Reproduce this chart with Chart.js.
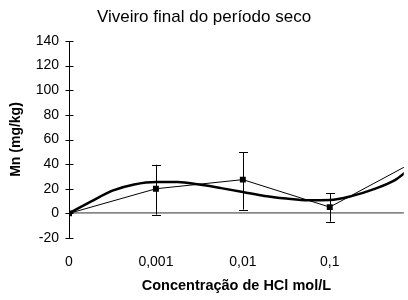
<!DOCTYPE html>
<html>
<head>
<meta charset="utf-8">
<script src="https://cdn.jsdelivr.net/npm/chart.js@4/dist/chart.umd.min.js"></script>
<style>
  html, body { margin: 0; padding: 0; background: #fff; }
  #wrap { width: 408px; height: 300px; position: relative; }
</style>
</head>
<body>
<div id="wrap"><canvas id="graphMn"></canvas></div>
<script>
// categories on the x axis (HCl concentration)
const xLabels = ['0', '0,001', '0,01', '0,1', '1'];

// measured Mn means and error bar ends
const mnMeans = [0, 20, 27.4, 5.1, 43];
const errLow  = [0, -1, 3, -6.8, 43];
const errHigh = [0, 39.5, 49.5, 16.5, 43];

// polynomial trend line
const trendX = [0, 0.25, 0.5, 0.75, 1.0, 1.25, 1.5, 1.75, 2.0, 2.25, 2.5, 2.75, 3.0, 3.25, 3.5, 3.75, 3.9];
const trendY = [0, 9.5, 18.5, 23.5, 25.5, 25.5, 23.4, 20.5, 17.4, 14.1, 12, 10.6, 10.8, 14, 19.5, 27, 35];

const yTicks = [-20, 0, 20, 40, 60, 80, 100, 120, 140];

const FONT = "'Liberation Sans', Arial, sans-serif";

/** Draws the vertical error bars with caps, using the chart scales */
const errorBars = {
    id: 'errorBars',
    afterDatasetsDraw(chart) {
        const ctx = chart.ctx;
        const xs = chart.scales.x;
        const ys = chart.scales.y;
        const area = chart.chartArea;
        ctx.save();
        ctx.beginPath();
        ctx.rect(area.left - 5, 0, area.right - area.left + 5, chart.height);
        ctx.clip();
        ctx.strokeStyle = '#000';
        ctx.lineWidth = 1;
        mnMeans.forEach((v, i) => {
            if (errHigh[i] === errLow[i]) return;
            const x = Math.round(xs.getPixelForValue(i)) + 0.5;
            const y1 = ys.getPixelForValue(errLow[i]);
            const y2 = ys.getPixelForValue(errHigh[i]);
            ctx.beginPath();
            ctx.moveTo(x, y1);
            ctx.lineTo(x, y2);
            ctx.moveTo(x - 4.5, Math.round(y1) + 0.5);
            ctx.lineTo(x + 4.5, Math.round(y1) + 0.5);
            ctx.moveTo(x - 4.5, Math.round(y2) + 0.5);
            ctx.lineTo(x + 4.5, Math.round(y2) + 0.5);
            ctx.stroke();
        });
        ctx.restore();
    }
};

/** Small tick marks crossing the y axis */
const crossTicks = {
    id: 'crossTicks',
    afterDraw(chart) {
        const ctx = chart.ctx;
        const ys = chart.scales.y;
        const x = Math.round(chart.chartArea.left) + 0.5;
        ctx.save();
        ctx.strokeStyle = '#000';
        ctx.lineWidth = 1;
        ctx.beginPath();
        yTicks.forEach(t => {
            const y = Math.round(ys.getPixelForValue(t)) + 0.5;
            ctx.moveTo(x - 4, y);
            ctx.lineTo(x + 4, y);
        });
        ctx.stroke();
        ctx.restore();
    }
};

new Chart(document.getElementById('graphMn'), {
    type: 'scatter',
    data: {
        datasets: [{
            label: 'Mn',
            data: mnMeans.map((v, i) => ({ x: i, y: v })),
            showLine: true,
            borderColor: '#000',
            backgroundColor: '#000',
            borderWidth: 1,
            pointStyle: 'rect',
            pointRadius: 4.2,
            pointBorderWidth: 0,
            order: 2
        }, {
            label: 'Trend',
            data: trendX.map((x, i) => ({ x: x, y: trendY[i] })),
            showLine: true,
            borderColor: '#000',
            borderWidth: 2.5,
            pointRadius: 0,
            cubicInterpolationMode: 'monotone',
            order: 1
        }]
    },
    options: {
        responsive: true,
        maintainAspectRatio: false,
        animation: false,
        layout: { padding: 0 },
        plugins: {
            legend: { display: false },
            tooltip: { enabled: false },
            title: {
                display: true,
                text: 'Viveiro final do período seco',
                color: '#000',
                font: { family: FONT, size: 17, weight: 'normal' },
                padding: { top: 7, bottom: 13.6 }
            }
        },
        scales: {
            x: {
                type: 'linear',
                min: 0,
                max: 3.852,
                afterBuildTicks: scale => {
                    scale.ticks = xLabels.map((l, i) => ({ value: i })).filter(t => t.value <= 3.852);
                },
                afterFit: scale => { scale.height = 62; },
                border: { display: false },
                grid: { display: false },
                ticks: {
                    color: '#000',
                    font: { family: FONT, size: 14 },
                    padding: 8,
                    maxRotation: 0,
                    callback: v => xLabels[v]
                },
                title: {
                    display: true,
                    text: 'Concentração de HCl mol/L',
                    color: '#000',
                    font: { family: FONT, size: 14.5, weight: 'bold' },
                    padding: { top: 0, bottom: 5 }
                }
            },
            y: {
                min: -20,
                max: 140,
                afterBuildTicks: scale => {
                    scale.ticks = yTicks.map(v => ({ value: v }));
                },
                afterFit: scale => { scale.width = 69; },
                border: { display: true, color: '#000', width: 1 },
                grid: {
                    drawTicks: false,
                    color: c => c.tick && c.tick.value === 0 ? '#888' : 'rgba(0,0,0,0)',
                    lineWidth: 1.8
                },
                ticks: {
                    color: '#000',
                    font: { family: FONT, size: 14 },
                    padding: 10
                },
                title: {
                    display: true,
                    text: 'Mn (mg/kg)',
                    color: '#000',
                    font: { family: FONT, size: 14, weight: 'bold' },
                    padding: { top: 8, bottom: 0 }
                }
            }
        }
    },
    plugins: [errorBars, crossTicks]
});
</script>
</body>
</html>
